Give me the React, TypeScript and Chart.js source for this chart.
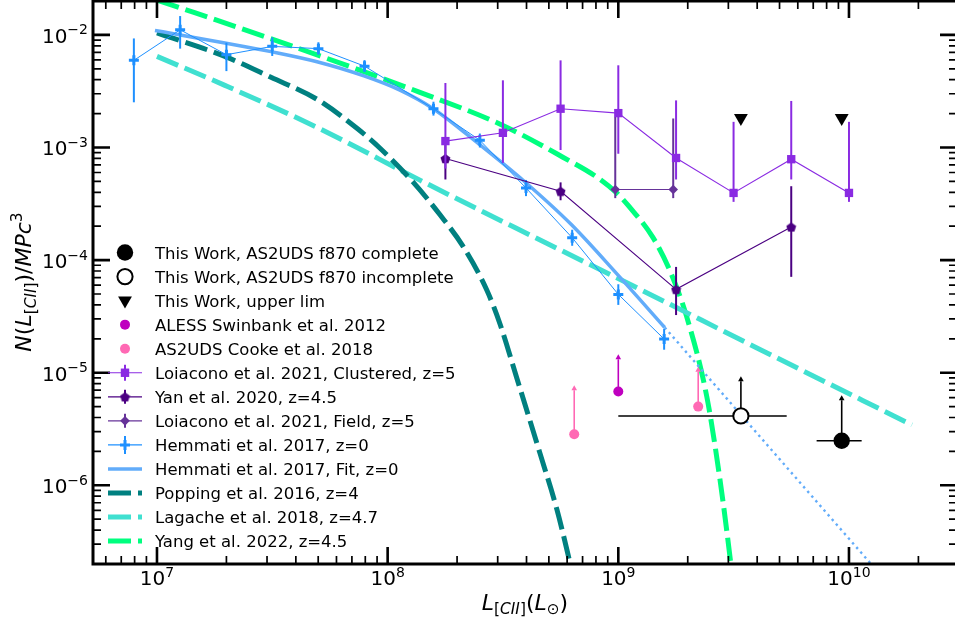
import React, { useEffect, useRef } from "react";
import { Chart, registerables } from "chart.js";

Chart.register(...registerables);

const FONT = '"DejaVu Sans", "Liberation Sans", sans-serif';

// ---------- axes ----------
const X_MIN = 5.28e6;
const X_MAX = 2.94e10;
const Y_MIN = 2e-7;
const Y_MAX = 2e-2;
const X_MAJOR = [1e7, 1e8, 1e9, 1e10];
const X_EXP = ["7", "8", "9", "10"];
const Y_MAJOR = [1e-6, 1e-5, 1e-4, 1e-3, 1e-2];
const Y_EXP = ["\u22126", "\u22125", "\u22124", "\u22123", "\u22122"];

// ---------- This Work ----------
const completeL = [9.3e9];
const completeN = [2.49e-6];
const completeLlo = [7.24e9];
const completeLhi = [1.135e10];
const completeLim = [5.93e-6];

const incompleteL = [3.4e9];
const incompleteN = [4.13e-6];
const incompleteLlo = [1.0e9];
const incompleteLhi = [5.37e9];
const incompleteLim = [8.75e-6];

const upperL = [3.4e9, 9.3e9];
const upperN = [1.83e-3, 1.83e-3];

// ---------- ALESS / Cooke (lower limits) ----------
const alessL = [1.0e9];
const alessN = [6.8e-6];
const alessLim = [1.37e-5];

const cookeL = [6.44e8, 2.22e9];
const cookeN = [2.84e-6, 5.0e-6];
const cookeLim = [7.28e-6, 1.06e-5];

// ---------- Loiacono 2021 clustered ----------
const clusL = [1.78e8, 3.16e8, 5.62e8, 1.0e9, 1.78e9, 3.16e9, 5.62e9, 1.0e10];
const clusN = [1.14e-3, 1.35e-3, 2.21e-3, 2.02e-3, 8.07e-4, 3.95e-4, 7.87e-4, 3.95e-4];
const clusNlo = [6.5e-4, 7.3e-4, 9.5e-4, 8.8e-4, 5.2e-4, 3.29e-4, 5.2e-4, 3.29e-4];
const clusNhi = [3.74e-3, 3.95e-3, 5.94e-3, 5.37e-3, 2.62e-3, 1.69e-3, 2.59e-3, 1.69e-3];

// ---------- Yan 2020 ----------
const yanL = [1.78e8, 5.62e8, 1.78e9, 5.62e9];
const yanN = [7.98e-4, 4.09e-4, 5.5e-5, 1.97e-4];
const yanNlo = [5.2e-4, 3.4e-4, 3.25e-5, 7.1e-5];
const yanNhi = [1.15e-3, 4.9e-4, 8.7e-5, 4.53e-4];

// ---------- Loiacono 2021 field ----------
const fieldL = [9.7e8, 1.73e9];
const fieldN = [4.23e-4, 4.23e-4];
const fieldNlo = [3.55e-4, 3.55e-4];
const fieldNhi = [1.87e-3, 1.81e-3];

// ---------- Hemmati 2017 ----------
const hemL = [7.94e6, 1.26e7, 2.0e7, 3.16e7, 5.01e7, 7.94e7, 1.58e8, 2.51e8, 3.98e8, 6.31e8, 1.0e9, 1.58e9];
const hemN = [5.94e-3, 1.11e-2, 6.67e-3, 7.91e-3, 7.55e-3, 5.28e-3, 2.21e-3, 1.16e-3, 4.37e-4, 1.58e-4, 4.96e-5, 1.99e-5];
const hemNlo = [2.52e-3, 7.55e-3, 4.77e-3, 6.5e-3, 6.65e-3, 4.67e-3, 1.92e-3, 1.0e-3, 3.7e-4, 1.34e-4, 4.0e-5, 1.6e-5];
const hemNhi = [9.3e-3, 1.47e-2, 8.53e-3, 9.5e-3, 8.6e-3, 5.97e-3, 2.55e-3, 1.33e-3, 5.15e-4, 1.86e-4, 6.1e-5, 2.45e-5];

const hemFitL = [9.8e6, 1.245e7, 1.97e7, 3.12e7, 4.94e7, 7.89e7, 1.13e8, 1.57e8, 2.49e8, 3.94e8, 6.24e8, 9.86e8, 1.59e9];
const hemFitN = [1.096e-2, 1.004e-2, 8.48e-3, 7.1e-3, 5.77e-3, 4.32e-3, 3.23e-3, 2.22e-3, 1.07e-3, 4.94e-4, 2.08e-4, 7.55e-5, 2.52e-5];
const hemExtL = [1.59e9, 1.31e10];
const hemExtN = [2.52e-5, 1.78e-7];

// ---------- models ----------
const poppingL = [1.0e7, 1.97e7, 3.12e7, 4.94e7, 7.36e7, 9.27e7, 1.29e8, 1.69e8, 2.12e8, 2.69e8, 3.07e8, 3.63e8, 4.57e8, 5.42e8, 6.17e8, 6.49e8];
const poppingN = [1.042e-2, 6.44e-3, 4.2e-3, 2.68e-3, 1.48e-3, 9.84e-4, 4.92e-4, 2.51e-4, 1.33e-4, 5.42e-5, 2.71e-5, 8.98e-6, 1.94e-6, 6.07e-7, 2.06e-7, 1.31e-7];

const lagacheL = [1.0e7, 1.97e7, 4.94e7, 1.38e8, 4.14e8, 1.21e9, 3.99e9, 1.875e10];
const lagacheN = [6.45e-3, 3.56e-3, 1.51e-3, 5.13e-4, 1.67e-4, 5.65e-5, 1.66e-5, 3.44e-6];

const yangL = [1.0e7, 3.09e7, 1.38e8, 3.16e8, 5.75e8, 8.08e8, 9.86e8, 1.12e9, 1.41e9, 1.67e9, 1.98e9, 2.42e9, 2.76e9, 3.07e9, 3.15e9];
const yangN = [2.04e-2, 9.31e-3, 3.09e-3, 1.57e-3, 8.2e-4, 5.45e-4, 3.93e-4, 2.95e-4, 1.6e-4, 8.14e-5, 3.13e-5, 6.1e-6, 1.12e-6, 2.06e-7, 1.3e-7];

// ---------- labels ----------
const LABELS = [
  "This Work, AS2UDS f870 complete",
  "This Work, AS2UDS f870 incomplete",
  "This Work, upper lim",
  "ALESS Swinbank et al. 2012",
  "AS2UDS Cooke et al. 2018",
  "Loiacono et al. 2021, Clustered, z=5",
  "Yan et al. 2020, z=4.5",
  "Loiacono et al. 2021, Field, z=5",
  "Hemmati et al. 2017, z=0",
  "Hemmati et al. 2017, Fit, z=0",
  "Popping et al. 2016, z=4",
  "Lagache et al. 2018, z=4.7",
  "Yang et al. 2022, z=4.5",
];

const C_BLACK = "#000000";
const C_ALESS = "#BF00BF";
const C_COOKE = "#FF69B4";
const C_CLUS = "#8A2BE2";
const C_YAN = "#4B0082";
const C_FIELD = "#663399";
const C_HEM = "#1E90FF";
const C_FIT = "#62ACFA";
const C_POP = "#008080";
const C_LAG = "#40E0D0";
const C_YANG = "#00FF7F";

const DASH = [23, 7];

const pts = (xs: number[], ys: number[]) => xs.map((x, i) => ({ x, y: ys[i] }));

function makePentagon(color: string, size: number) {
  const c = document.createElement("canvas");
  c.width = size;
  c.height = size;
  const g = c.getContext("2d")!;
  g.fillStyle = color;
  g.beginPath();
  const r = size / 2 - 0.3;
  for (let i = 0; i < 5; i++) {
    const a = -Math.PI / 2 + (i * 2 * Math.PI) / 5;
    const px = size / 2 + r * Math.cos(a);
    const py = size / 2 + 0.6 + r * Math.sin(a);
    if (i === 0) g.moveTo(px, py);
    else g.lineTo(px, py);
  }
  g.closePath();
  g.fill();
  return c;
}

function arrowHead(ctx: CanvasRenderingContext2D, x: number, y: number, hw: number, h: number) {
  ctx.beginPath();
  ctx.moveTo(x, y - h * 0.6);
  ctx.lineTo(x - hw, y + h * 0.4);
  ctx.lineTo(x + hw, y + h * 0.4);
  ctx.closePath();
  ctx.fill();
}

const errPlugin = {
  id: "errbars",
  beforeDatasetDraw(chart: any, args: any) {
    const ds: any = chart.data.datasets[args.index];
    const eb = ds.errbars;
    if (!eb) return;
    const ctx: CanvasRenderingContext2D = chart.ctx;
    const xs = chart.scales.x;
    const ys = chart.scales.y;
    ctx.save();
    ctx.strokeStyle = eb.color;
    ctx.fillStyle = eb.color;
    ctx.lineWidth = eb.width;
    ctx.lineCap = "butt";
    ds.data.forEach((p: any, i: number) => {
      const px = xs.getPixelForValue(p.x);
      const py = ys.getPixelForValue(p.y);
      if (eb.lo) {
        const a = ys.getPixelForValue(eb.lo[i]);
        const b = ys.getPixelForValue(eb.hi[i]);
        ctx.beginPath();
        ctx.moveTo(px, a);
        ctx.lineTo(px, b);
        ctx.stroke();
      }
      if (eb.xlo) {
        const a = xs.getPixelForValue(eb.xlo[i]);
        const b = xs.getPixelForValue(eb.xhi[i]);
        ctx.beginPath();
        ctx.moveTo(a, py);
        ctx.lineTo(b, py);
        ctx.stroke();
      }
      if (eb.up) {
        const t = ys.getPixelForValue(eb.up[i]);
        ctx.beginPath();
        ctx.moveTo(px, py);
        ctx.lineTo(px, t + 2);
        ctx.stroke();
        arrowHead(ctx, px, t, 2.8, 5);
      }
    });
    ctx.restore();
  },
};

type Seg = { t: string; it?: boolean; s?: number; dy?: number };

function segFont(seg: Seg, base: number) {
  return `${seg.it ? "italic " : ""}${(base * (seg.s ?? 1)).toFixed(2)}px ${FONT}`;
}
function measureSegs(ctx: CanvasRenderingContext2D, segs: Seg[], base: number) {
  let w = 0;
  for (const s of segs) {
    ctx.font = segFont(s, base);
    w += ctx.measureText(s.t).width;
  }
  return w;
}
function drawSegs(ctx: CanvasRenderingContext2D, segs: Seg[], x: number, y: number, base: number) {
  let cx = x;
  ctx.textAlign = "left";
  ctx.textBaseline = "alphabetic";
  for (const s of segs) {
    ctx.font = segFont(s, base);
    ctx.fillText(s.t, cx, y + (s.dy ?? 0));
    cx += ctx.measureText(s.t).width;
  }
}

function drawPow(ctx: CanvasRenderingContext2D, exp: string, x: number, y: number, align: "center" | "right") {
  const segs: Seg[] = [{ t: "10" }, { t: exp, s: 0.7, dy: -8.5 }];
  const w = measureSegs(ctx, segs, 20);
  const x0 = align === "center" ? x - w / 2 : x - w;
  drawSegs(ctx, segs, x0, y, 20);
}

const YLABEL: Seg[] = [
  { t: "N", it: true },
  { t: "(" },
  { t: "L", it: true },
  { t: "[", s: 0.7, dy: 4.5 },
  { t: "CII", it: true, s: 0.7, dy: 4.5 },
  { t: "]", s: 0.7, dy: 4.5 },
  { t: ")" },
  { t: "/" },
  { t: "MPc", it: true },
  { t: "3", s: 0.7, dy: -9.5 },
];
const XLABEL: Seg[] = [
  { t: "L", it: true },
  { t: "[", s: 0.7, dy: 4.5 },
  { t: "CII", it: true, s: 0.7, dy: 4.5 },
  { t: "]", s: 0.7, dy: 4.5 },
  { t: "(" },
  { t: "L", it: true },
  { t: "\u2299", s: 0.7, dy: 4.5 },
  { t: ")" },
];

function legendHandle(ctx: CanvasRenderingContext2D, i: number, y: number, pent: HTMLCanvasElement) {
  const cx = 125;
  const x0 = 108;
  const x1 = 142;
  ctx.save();
  const line = (color: string, w: number, dash: number[] = []) => {
    ctx.strokeStyle = color;
    ctx.lineWidth = w;
    ctx.setLineDash(dash);
    ctx.beginPath();
    ctx.moveTo(x0, y);
    ctx.lineTo(x1, y);
    ctx.stroke();
    ctx.setLineDash([]);
  };
  const vbar = (color: string, h: number) => {
    ctx.strokeStyle = color;
    ctx.lineWidth = 2;
    ctx.beginPath();
    ctx.moveTo(cx, y - h);
    ctx.lineTo(cx, y + h);
    ctx.stroke();
  };
  const circle = (r: number, fill: string | null, stroke: string | null, lw = 2) => {
    ctx.beginPath();
    ctx.arc(cx, y, r, 0, Math.PI * 2);
    if (fill) {
      ctx.fillStyle = fill;
      ctx.fill();
    }
    if (stroke) {
      ctx.strokeStyle = stroke;
      ctx.lineWidth = lw;
      ctx.stroke();
    }
  };
  switch (i) {
    case 0:
      circle(8.2, C_BLACK, null);
      break;
    case 1:
      circle(7.6, "#fff", C_BLACK, 2);
      break;
    case 2: {
      const r = 8;
      ctx.fillStyle = C_BLACK;
      ctx.beginPath();
      ctx.moveTo(cx, y + r);
      ctx.lineTo(cx - r * 0.866, y - r / 2);
      ctx.lineTo(cx + r * 0.866, y - r / 2);
      ctx.closePath();
      ctx.fill();
      break;
    }
    case 3:
      circle(5, C_ALESS, null);
      break;
    case 4:
      circle(5, C_COOKE, null);
      break;
    case 5:
      line(C_CLUS, 1.2);
      vbar(C_CLUS, 8);
      ctx.fillStyle = C_CLUS;
      ctx.fillRect(cx - 4.2, y - 4.2, 8.4, 8.4);
      break;
    case 6:
      line(C_YAN, 1.2);
      vbar(C_YAN, 7);
      ctx.drawImage(pent, cx - pent.width / 2, y - pent.height / 2);
      break;
    case 7:
      line(C_FIELD, 1.2);
      vbar(C_FIELD, 7);
      ctx.fillStyle = C_FIELD;
      ctx.beginPath();
      ctx.moveTo(cx - 4.8, y);
      ctx.lineTo(cx, y - 4.8);
      ctx.lineTo(cx + 4.8, y);
      ctx.lineTo(cx, y + 4.8);
      ctx.closePath();
      ctx.fill();
      break;
    case 8:
      line(C_HEM, 1.2);
      vbar(C_HEM, 9);
      ctx.strokeStyle = C_HEM;
      ctx.lineWidth = 3;
      ctx.beginPath();
      ctx.moveTo(cx - 5, y);
      ctx.lineTo(cx + 5, y);
      ctx.moveTo(cx, y - 5);
      ctx.lineTo(cx, y + 5);
      ctx.stroke();
      break;
    case 9:
      line(C_FIT, 3.5);
      break;
    case 10:
      line(C_POP, 5, DASH);
      break;
    case 11:
      line(C_LAG, 5, DASH);
      break;
    case 12:
      line(C_YANG, 5, DASH);
      break;
  }
  ctx.restore();
}

function framePlugin(pent: HTMLCanvasElement) {
  return {
    id: "frame",
    afterDraw(chart: any) {
      const ctx: CanvasRenderingContext2D = chart.ctx;
      const ca = chart.chartArea;
      const xs = chart.scales.x;
      const ys = chart.scales.y;
      ctx.save();
      ctx.strokeStyle = "#000";
      ctx.fillStyle = "#000";
      ctx.lineCap = "butt";
      // x ticks (bottom & top)
      for (let e = 6; e <= 10; e++) {
        for (let m = 1; m <= 9; m++) {
          const v = m * Math.pow(10, e);
          if (v < X_MIN || v > X_MAX) continue;
          const px = xs.getPixelForValue(v);
          const major = m === 1;
          const len = major ? 17 : 8;
          ctx.lineWidth = major ? 2.6 : 1.7;
          ctx.beginPath();
          ctx.moveTo(px, ca.bottom);
          ctx.lineTo(px, ca.bottom - len);
          ctx.moveTo(px, ca.top);
          ctx.lineTo(px, ca.top + len);
          ctx.stroke();
        }
      }
      // y ticks (left & right)
      for (let e = -7; e <= -2; e++) {
        for (let m = 1; m <= 9; m++) {
          const v = m * Math.pow(10, e);
          if (v < Y_MIN * 0.999 || v > Y_MAX * 1.001) continue;
          const py = ys.getPixelForValue(v);
          const major = m === 1;
          const len = major ? 17 : 8;
          ctx.lineWidth = major ? 2.6 : 1.7;
          ctx.beginPath();
          ctx.moveTo(ca.left, py);
          ctx.lineTo(ca.left + len, py);
          ctx.moveTo(ca.right, py);
          ctx.lineTo(ca.right - len, py);
          ctx.stroke();
        }
      }
      // spines
      ctx.lineWidth = 3;
      ctx.strokeRect(ca.left, ca.top, ca.right - ca.left, ca.bottom - ca.top);

      // tick labels
      X_MAJOR.forEach((v, i) => drawPow(ctx, X_EXP[i], xs.getPixelForValue(v), 585, "center"));
      Y_MAJOR.forEach((v, i) => drawPow(ctx, Y_EXP[i], 88, ys.getPixelForValue(v) + 8, "right"));

      // axis labels
      const wx = measureSegs(ctx, XLABEL, 22);
      drawSegs(ctx, XLABEL, 525 - wx / 2, 609.5, 22);
      ctx.save();
      ctx.translate(31, 282);
      ctx.rotate(-Math.PI / 2);
      const wy = measureSegs(ctx, YLABEL, 22);
      drawSegs(ctx, YLABEL, -wy / 2, 0, 22);
      ctx.restore();

      // legend
      LABELS.forEach((lab, i) => {
        const y = 252.5 + 24.05 * i;
        legendHandle(ctx, i, y, pent);
        ctx.fillStyle = "#000";
        ctx.font = `16.5px ${FONT}`;
        ctx.textAlign = "left";
        ctx.textBaseline = "alphabetic";
        ctx.fillText(lab, 155, y + 6);
      });
      ctx.restore();
    },
  };
}

export default function App() {
  const ref = useRef<HTMLCanvasElement>(null);

  useEffect(() => {
    const canvas = ref.current!;
    const pent = makePentagon(C_YAN, 11);
    const curve = (label: string, data: any[], color: string, width: number, dash: number[] = []) => ({
      label,
      data,
      showLine: true,
      borderColor: color,
      backgroundColor: color,
      borderWidth: width,
      borderDash: dash,
      pointRadius: 0,
      cubicInterpolationMode: "monotone",
      capBezierPoints: false,
    });

    const datasets: any[] = [
      {
        label: LABELS[0],
        data: pts(completeL, completeN),
        pointStyle: "circle",
        pointRadius: 8.2,
        pointBackgroundColor: C_BLACK,
        pointBorderWidth: 0,
        errbars: { color: C_BLACK, width: 1.6, xlo: completeLlo, xhi: completeLhi, up: completeLim },
      },
      {
        label: LABELS[1],
        data: pts(incompleteL, incompleteN),
        pointStyle: "circle",
        pointRadius: 7.6,
        pointBackgroundColor: "#ffffff",
        pointBorderColor: C_BLACK,
        pointBorderWidth: 2,
        errbars: { color: C_BLACK, width: 1.6, xlo: incompleteLlo, xhi: incompleteLhi, up: incompleteLim },
      },
      {
        label: LABELS[2],
        data: pts(upperL, upperN),
        pointStyle: "triangle",
        rotation: 180,
        pointRadius: 8,
        pointBackgroundColor: C_BLACK,
        pointBorderWidth: 0,
      },
      {
        label: LABELS[3],
        data: pts(alessL, alessN),
        pointStyle: "circle",
        pointRadius: 5,
        pointBackgroundColor: C_ALESS,
        pointBorderWidth: 0,
        errbars: { color: C_ALESS, width: 1.6, up: alessLim },
      },
      {
        label: LABELS[4],
        data: pts(cookeL, cookeN),
        pointStyle: "circle",
        pointRadius: 5,
        pointBackgroundColor: C_COOKE,
        pointBorderWidth: 0,
        errbars: { color: C_COOKE, width: 1.6, up: cookeLim },
      },
      {
        label: LABELS[5],
        data: pts(clusL, clusN),
        showLine: true,
        borderColor: C_CLUS,
        borderWidth: 1.1,
        pointStyle: "rect",
        pointRadius: 5.9,
        pointBackgroundColor: C_CLUS,
        pointBorderWidth: 0,
        errbars: { color: C_CLUS, width: 2, lo: clusNlo, hi: clusNhi },
      },
      {
        label: LABELS[6],
        data: pts(yanL, yanN),
        showLine: true,
        borderColor: C_YAN,
        borderWidth: 1.1,
        pointStyle: pent,
        pointRadius: 5,
        errbars: { color: C_YAN, width: 2, lo: yanNlo, hi: yanNhi },
      },
      {
        label: LABELS[7],
        data: pts(fieldL, fieldN),
        showLine: true,
        borderColor: C_FIELD,
        borderWidth: 1.1,
        pointStyle: "rectRot",
        pointRadius: 4.8,
        pointBackgroundColor: C_FIELD,
        pointBorderWidth: 0,
        errbars: { color: C_FIELD, width: 2, lo: fieldNlo, hi: fieldNhi },
      },
      {
        label: LABELS[8],
        data: pts(hemL, hemN),
        showLine: true,
        borderColor: C_HEM,
        borderWidth: 1,
        pointStyle: "cross",
        pointRadius: 5,
        pointBorderColor: C_HEM,
        pointBorderWidth: 3,
        errbars: { color: C_HEM, width: 2, lo: hemNlo, hi: hemNhi },
      },
      curve(LABELS[9], pts(hemFitL, hemFitN), C_FIT, 3.5),
      curve("Hemmati fit extrapolation", pts(hemExtL, hemExtN), C_FIT, 2.4, [2.4, 3.8]),
      curve(LABELS[10], pts(poppingL, poppingN), C_POP, 5, DASH),
      curve(LABELS[11], pts(lagacheL, lagacheN), C_LAG, 5, DASH),
      curve(LABELS[12], pts(yangL, yangN), C_YANG, 5, DASH),
    ];

    const chart = new Chart(canvas, {
      type: "scatter",
      data: { datasets },
      options: {
        animation: false,
        responsive: false,
        devicePixelRatio: 1,
        events: [],
        layout: { autoPadding: false, padding: { left: 93, right: 3, top: 1, bottom: 61 } },
        plugins: { legend: { display: false }, tooltip: { enabled: false }, title: { display: false } },
        scales: {
          x: { type: "logarithmic", min: X_MIN, max: X_MAX, display: false },
          y: { type: "logarithmic", min: Y_MIN, max: Y_MAX, display: false },
        },
      },
      plugins: [errPlugin, framePlugin(pent)],
    } as any);
    return () => chart.destroy();
  }, []);

  return (
    <div
      style={{
        position: "fixed",
        left: 0,
        top: 0,
        width: 955,
        height: 625,
        overflow: "hidden",
        background: "#ffffff",
      }}
    >
      <canvas ref={ref} width={960} height={625} style={{ display: "block", width: 960, height: 625 }} />
    </div>
  );
}
